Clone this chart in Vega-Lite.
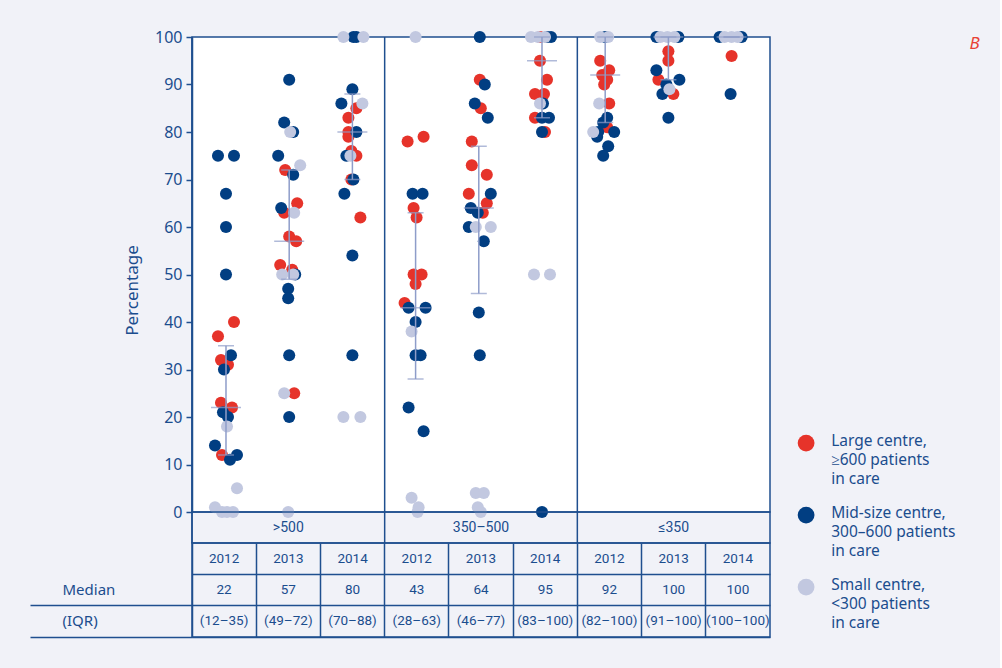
{
  "$schema": "https://vega.github.io/schema/vega-lite/v6.json",
  "background": "#f1f2f8",
  "padding": {"left": 28, "top": 28, "right": 20, "bottom": 32},
  "title": {
    "text": "B",
    "anchor": "end",
    "frame": "bounds",
    "font": "Noto Sans",
    "fontSize": 17,
    "fontStyle": "italic",
    "fontWeight": "normal",
    "color": "#e84136",
    "dx": 24,
    "dy": 29
  },
  "datasets": {
    "centres": [
      {"col": 0, "centre": "Large", "pct": 40, "jitter": 8},
      {"col": 0, "centre": "Large", "pct": 37, "jitter": -8},
      {"col": 0, "centre": "Large", "pct": 32, "jitter": -5},
      {"col": 0, "centre": "Large", "pct": 31, "jitter": 2},
      {"col": 0, "centre": "Large", "pct": 23, "jitter": -5},
      {"col": 0, "centre": "Large", "pct": 22, "jitter": 6},
      {"col": 0, "centre": "Large", "pct": 12, "jitter": -4},
      {"col": 0, "centre": "Mid", "pct": 75, "jitter": -8},
      {"col": 0, "centre": "Mid", "pct": 75, "jitter": 8},
      {"col": 0, "centre": "Mid", "pct": 67, "jitter": 0},
      {"col": 0, "centre": "Mid", "pct": 60, "jitter": 0},
      {"col": 0, "centre": "Mid", "pct": 50, "jitter": 0},
      {"col": 0, "centre": "Mid", "pct": 33, "jitter": 5},
      {"col": 0, "centre": "Mid", "pct": 30, "jitter": -2},
      {"col": 0, "centre": "Mid", "pct": 21, "jitter": -3},
      {"col": 0, "centre": "Mid", "pct": 20, "jitter": 2},
      {"col": 0, "centre": "Mid", "pct": 14, "jitter": -11},
      {"col": 0, "centre": "Mid", "pct": 12, "jitter": 11},
      {"col": 0, "centre": "Mid", "pct": 11, "jitter": 4},
      {"col": 0, "centre": "Small", "pct": 18, "jitter": 1},
      {"col": 0, "centre": "Small", "pct": 5, "jitter": 11},
      {"col": 0, "centre": "Small", "pct": 1, "jitter": -11},
      {"col": 0, "centre": "Small", "pct": 0, "jitter": -4},
      {"col": 0, "centre": "Small", "pct": 0, "jitter": 1},
      {"col": 0, "centre": "Small", "pct": 0, "jitter": 7},

      {"col": 1, "centre": "Large", "pct": 72, "jitter": -4},
      {"col": 1, "centre": "Large", "pct": 65, "jitter": 8},
      {"col": 1, "centre": "Large", "pct": 63, "jitter": -5},
      {"col": 1, "centre": "Large", "pct": 58, "jitter": 0},
      {"col": 1, "centre": "Large", "pct": 57, "jitter": 7},
      {"col": 1, "centre": "Large", "pct": 52, "jitter": -9},
      {"col": 1, "centre": "Large", "pct": 51, "jitter": 3},
      {"col": 1, "centre": "Large", "pct": 25, "jitter": 5},
      {"col": 1, "centre": "Mid", "pct": 91, "jitter": 0},
      {"col": 1, "centre": "Mid", "pct": 82, "jitter": -5},
      {"col": 1, "centre": "Mid", "pct": 80, "jitter": 4},
      {"col": 1, "centre": "Mid", "pct": 75, "jitter": -11},
      {"col": 1, "centre": "Mid", "pct": 71, "jitter": 4},
      {"col": 1, "centre": "Mid", "pct": 64, "jitter": -8},
      {"col": 1, "centre": "Mid", "pct": 50, "jitter": 6},
      {"col": 1, "centre": "Mid", "pct": 47, "jitter": -1},
      {"col": 1, "centre": "Mid", "pct": 45, "jitter": -1},
      {"col": 1, "centre": "Mid", "pct": 33, "jitter": 0},
      {"col": 1, "centre": "Mid", "pct": 20, "jitter": 0},
      {"col": 1, "centre": "Small", "pct": 80, "jitter": 1},
      {"col": 1, "centre": "Small", "pct": 73, "jitter": 11},
      {"col": 1, "centre": "Small", "pct": 63, "jitter": 5},
      {"col": 1, "centre": "Small", "pct": 50, "jitter": -7},
      {"col": 1, "centre": "Small", "pct": 50, "jitter": 4},
      {"col": 1, "centre": "Small", "pct": 25, "jitter": -5},
      {"col": 1, "centre": "Small", "pct": 0, "jitter": -1},

      {"col": 2, "centre": "Large", "pct": 85, "jitter": 4},
      {"col": 2, "centre": "Large", "pct": 83, "jitter": -4},
      {"col": 2, "centre": "Large", "pct": 80, "jitter": -4},
      {"col": 2, "centre": "Large", "pct": 79, "jitter": -4},
      {"col": 2, "centre": "Large", "pct": 76, "jitter": -1},
      {"col": 2, "centre": "Large", "pct": 75, "jitter": 4},
      {"col": 2, "centre": "Large", "pct": 70, "jitter": -1},
      {"col": 2, "centre": "Large", "pct": 62, "jitter": 8},
      {"col": 2, "centre": "Mid", "pct": 100, "jitter": 1},
      {"col": 2, "centre": "Mid", "pct": 100, "jitter": 4},
      {"col": 2, "centre": "Mid", "pct": 89, "jitter": 0},
      {"col": 2, "centre": "Mid", "pct": 86, "jitter": -11},
      {"col": 2, "centre": "Mid", "pct": 80, "jitter": 4},
      {"col": 2, "centre": "Mid", "pct": 75, "jitter": -6},
      {"col": 2, "centre": "Mid", "pct": 70, "jitter": 1},
      {"col": 2, "centre": "Mid", "pct": 67, "jitter": -8},
      {"col": 2, "centre": "Mid", "pct": 54, "jitter": 0},
      {"col": 2, "centre": "Mid", "pct": 33, "jitter": 0},
      {"col": 2, "centre": "Small", "pct": 100, "jitter": -9},
      {"col": 2, "centre": "Small", "pct": 100, "jitter": 11},
      {"col": 2, "centre": "Small", "pct": 86, "jitter": 10},
      {"col": 2, "centre": "Small", "pct": 75, "jitter": -2},
      {"col": 2, "centre": "Small", "pct": 20, "jitter": -9},
      {"col": 2, "centre": "Small", "pct": 20, "jitter": 8},

      {"col": 3, "centre": "Large", "pct": 79, "jitter": 8},
      {"col": 3, "centre": "Large", "pct": 78, "jitter": -8},
      {"col": 3, "centre": "Large", "pct": 64, "jitter": -2},
      {"col": 3, "centre": "Large", "pct": 62, "jitter": 1},
      {"col": 3, "centre": "Large", "pct": 50, "jitter": -2},
      {"col": 3, "centre": "Large", "pct": 50, "jitter": 6},
      {"col": 3, "centre": "Large", "pct": 48, "jitter": 0},
      {"col": 3, "centre": "Large", "pct": 44, "jitter": -11},
      {"col": 3, "centre": "Mid", "pct": 67, "jitter": -3},
      {"col": 3, "centre": "Mid", "pct": 67, "jitter": 7},
      {"col": 3, "centre": "Mid", "pct": 43, "jitter": -7},
      {"col": 3, "centre": "Mid", "pct": 43, "jitter": 10},
      {"col": 3, "centre": "Mid", "pct": 40, "jitter": 0},
      {"col": 3, "centre": "Mid", "pct": 33, "jitter": 0},
      {"col": 3, "centre": "Mid", "pct": 33, "jitter": 5},
      {"col": 3, "centre": "Mid", "pct": 22, "jitter": -7},
      {"col": 3, "centre": "Mid", "pct": 17, "jitter": 8},
      {"col": 3, "centre": "Small", "pct": 100, "jitter": 0},
      {"col": 3, "centre": "Small", "pct": 38, "jitter": -4},
      {"col": 3, "centre": "Small", "pct": 3, "jitter": -4},
      {"col": 3, "centre": "Small", "pct": 1, "jitter": 3},
      {"col": 3, "centre": "Small", "pct": 0, "jitter": 2},

      {"col": 4, "centre": "Large", "pct": 91, "jitter": 1},
      {"col": 4, "centre": "Large", "pct": 85, "jitter": 2},
      {"col": 4, "centre": "Large", "pct": 78, "jitter": -7},
      {"col": 4, "centre": "Large", "pct": 73, "jitter": -7},
      {"col": 4, "centre": "Large", "pct": 71, "jitter": 8},
      {"col": 4, "centre": "Large", "pct": 67, "jitter": -10},
      {"col": 4, "centre": "Large", "pct": 65, "jitter": 8},
      {"col": 4, "centre": "Large", "pct": 63, "jitter": 4},
      {"col": 4, "centre": "Mid", "pct": 100, "jitter": 1},
      {"col": 4, "centre": "Mid", "pct": 90, "jitter": 6},
      {"col": 4, "centre": "Mid", "pct": 86, "jitter": -4},
      {"col": 4, "centre": "Mid", "pct": 83, "jitter": 9},
      {"col": 4, "centre": "Mid", "pct": 67, "jitter": 12},
      {"col": 4, "centre": "Mid", "pct": 64, "jitter": -8},
      {"col": 4, "centre": "Mid", "pct": 63, "jitter": -1},
      {"col": 4, "centre": "Mid", "pct": 60, "jitter": -10},
      {"col": 4, "centre": "Mid", "pct": 57, "jitter": 5},
      {"col": 4, "centre": "Mid", "pct": 42, "jitter": 0},
      {"col": 4, "centre": "Mid", "pct": 33, "jitter": 1},
      {"col": 4, "centre": "Small", "pct": 60, "jitter": -3},
      {"col": 4, "centre": "Small", "pct": 60, "jitter": 12},
      {"col": 4, "centre": "Small", "pct": 4, "jitter": -3},
      {"col": 4, "centre": "Small", "pct": 4, "jitter": 5},
      {"col": 4, "centre": "Small", "pct": 1, "jitter": -1},
      {"col": 4, "centre": "Small", "pct": 0, "jitter": 2},

      {"col": 5, "centre": "Large", "pct": 100, "jitter": -2},
      {"col": 5, "centre": "Large", "pct": 95, "jitter": -2},
      {"col": 5, "centre": "Large", "pct": 91, "jitter": 5},
      {"col": 5, "centre": "Large", "pct": 88, "jitter": -7},
      {"col": 5, "centre": "Large", "pct": 88, "jitter": 2},
      {"col": 5, "centre": "Large", "pct": 83, "jitter": -7},
      {"col": 5, "centre": "Large", "pct": 80, "jitter": 3},
      {"col": 5, "centre": "Mid", "pct": 100, "jitter": 9},
      {"col": 5, "centre": "Mid", "pct": 100, "jitter": 5},
      {"col": 5, "centre": "Mid", "pct": 86, "jitter": 1},
      {"col": 5, "centre": "Mid", "pct": 83, "jitter": 0},
      {"col": 5, "centre": "Mid", "pct": 83, "jitter": 7},
      {"col": 5, "centre": "Mid", "pct": 80, "jitter": 0},
      {"col": 5, "centre": "Mid", "pct": 0, "jitter": 0},
      {"col": 5, "centre": "Small", "pct": 100, "jitter": -11},
      {"col": 5, "centre": "Small", "pct": 100, "jitter": -4},
      {"col": 5, "centre": "Small", "pct": 100, "jitter": 3},
      {"col": 5, "centre": "Small", "pct": 86, "jitter": -2},
      {"col": 5, "centre": "Small", "pct": 50, "jitter": -8},
      {"col": 5, "centre": "Small", "pct": 50, "jitter": 8},

      {"col": 6, "centre": "Large", "pct": 95, "jitter": -5},
      {"col": 6, "centre": "Large", "pct": 93, "jitter": 4},
      {"col": 6, "centre": "Large", "pct": 92, "jitter": -3},
      {"col": 6, "centre": "Large", "pct": 91, "jitter": 2},
      {"col": 6, "centre": "Large", "pct": 90, "jitter": -1},
      {"col": 6, "centre": "Large", "pct": 86, "jitter": 4},
      {"col": 6, "centre": "Large", "pct": 81, "jitter": 2},
      {"col": 6, "centre": "Mid", "pct": 100, "jitter": 0},
      {"col": 6, "centre": "Mid", "pct": 83, "jitter": 2},
      {"col": 6, "centre": "Mid", "pct": 82, "jitter": -2},
      {"col": 6, "centre": "Mid", "pct": 80, "jitter": -7},
      {"col": 6, "centre": "Mid", "pct": 80, "jitter": 9},
      {"col": 6, "centre": "Mid", "pct": 79, "jitter": -8},
      {"col": 6, "centre": "Mid", "pct": 77, "jitter": 3},
      {"col": 6, "centre": "Mid", "pct": 75, "jitter": -2},
      {"col": 6, "centre": "Small", "pct": 100, "jitter": -5},
      {"col": 6, "centre": "Small", "pct": 100, "jitter": 3},
      {"col": 6, "centre": "Small", "pct": 86, "jitter": -6},
      {"col": 6, "centre": "Small", "pct": 80, "jitter": -12},

      {"col": 7, "centre": "Large", "pct": 97, "jitter": 0},
      {"col": 7, "centre": "Large", "pct": 95, "jitter": 0},
      {"col": 7, "centre": "Large", "pct": 91, "jitter": -10},
      {"col": 7, "centre": "Large", "pct": 88, "jitter": 5},
      {"col": 7, "centre": "Mid", "pct": 100, "jitter": -12},
      {"col": 7, "centre": "Mid", "pct": 100, "jitter": 10},
      {"col": 7, "centre": "Mid", "pct": 93, "jitter": -12},
      {"col": 7, "centre": "Mid", "pct": 91, "jitter": 11},
      {"col": 7, "centre": "Mid", "pct": 90, "jitter": -2},
      {"col": 7, "centre": "Mid", "pct": 88, "jitter": -6},
      {"col": 7, "centre": "Mid", "pct": 83, "jitter": 0},
      {"col": 7, "centre": "Small", "pct": 100, "jitter": -8},
      {"col": 7, "centre": "Small", "pct": 100, "jitter": -1},
      {"col": 7, "centre": "Small", "pct": 100, "jitter": 6},
      {"col": 7, "centre": "Small", "pct": 89, "jitter": 1},

      {"col": 8, "centre": "Large", "pct": 96, "jitter": 0},
      {"col": 8, "centre": "Mid", "pct": 100, "jitter": -12},
      {"col": 8, "centre": "Mid", "pct": 100, "jitter": 10},
      {"col": 8, "centre": "Mid", "pct": 88, "jitter": -1},
      {"col": 8, "centre": "Small", "pct": 100, "jitter": -7},
      {"col": 8, "centre": "Small", "pct": 100, "jitter": 0},
      {"col": 8, "centre": "Small", "pct": 100, "jitter": 6}
    ],
    "summary": [
      {"col": 0, "group": ">500", "year": "2012", "median": 22, "lo": 12, "hi": 35},
      {"col": 1, "group": ">500", "year": "2013", "median": 57, "lo": 49, "hi": 72},
      {"col": 2, "group": ">500", "year": "2014", "median": 80, "lo": 70, "hi": 88},
      {"col": 3, "group": "350–500", "year": "2012", "median": 43, "lo": 28, "hi": 63},
      {"col": 4, "group": "350–500", "year": "2013", "median": 64, "lo": 46, "hi": 77},
      {"col": 5, "group": "350–500", "year": "2014", "median": 95, "lo": 83, "hi": 100},
      {"col": 6, "group": "≤350", "year": "2012", "median": 92, "lo": 82, "hi": 100},
      {"col": 7, "group": "≤350", "year": "2013", "median": 100, "lo": 91, "hi": 100},
      {"col": 8, "group": "≤350", "year": "2014", "median": 100, "lo": 100, "hi": 100}
    ],
    "groups": [
      {"group": ">500"},
      {"group": "350–500"},
      {"group": "≤350"}
    ]
  },
  "vconcat": [
    {
      "width": 578,
      "height": 475,
      "view": {"fill": "#ffffff", "stroke": "#1f4f8f", "strokeWidth": 1.5},
      "layer": [
        {
          "layer": [
            {
              "data": {"name": "centres"},
              "mark": {"type": "circle", "size": 145, "opacity": 1},
              "encoding": {
                "x": {
                  "field": "col",
                  "type": "ordinal",
                  "scale": {"type": "band", "domain": [0, 1, 2, 3, 4, 5, 6, 7, 8], "paddingInner": 0, "paddingOuter": 0.0728, "align": 0.26},
                  "axis": null
                },
                "xOffset": {"field": "jitter", "type": "quantitative", "scale": {"domain": [-31.6, 31.6]}},
                "y": {
                  "field": "pct",
                  "type": "quantitative",
                  "title": "Percentage",
                  "scale": {"domain": [0, 100], "nice": false},
                  "axis": {
                    "values": [0, 10, 20, 30, 40, 50, 60, 70, 80, 90, 100],
                    "grid": false,
                    "tickSize": 6,
                    "tickWidth": 1.5,
                    "domainWidth": 1.5,
                    "labelFontSize": 16,
                    "labelPadding": 4,
                    "titleFontSize": 17,
                    "titleFontWeight": "normal",
                    "titleX": -51,
                    "titleY": 253
                  }
                },
                "color": {
                  "field": "centre",
                  "type": "nominal",
                  "scale": {"domain": ["Large", "Mid", "Small"], "range": ["#e6332a", "#013e82", "#c2c8e0"]},
                  "legend": {
                    "orient": "none",
                    "legendX": 605.6,
                    "legendY": 397.6,
                    "title": null,
                    "padding": 0,
                    "symbolType": "circle",
                    "symbolSize": 283,
                    "symbolStrokeWidth": 0,
                    "symbolOpacity": 1,
                    "labelFontSize": 15.5,
                    "labelColor": "#1b4d8e",
                    "labelOffset": 16.6,
                    "labelLimit": 0,
                    "labelBaseline": "top",
                    "rowPadding": 18,
                    "labelExpr": "datum.label === 'Large' ? ['Large centre,', '≥600 patients', 'in care'] : datum.label === 'Mid' ? ['Mid-size centre,', '300–600 patients', 'in care'] : ['Small centre,', '<300 patients', 'in care']",
                    "encode": {"labels": {"update": {"lineHeight": {"value": 19}, "dy": {"value": -9}}}}
                  }
                }
              }
            },
            {
              "data": {"name": "summary"},
              "mark": {"type": "rule", "color": "#8e9dc9", "strokeWidth": 1.5},
              "encoding": {
                "x": {"field": "col", "type": "ordinal"},
                "y": {"field": "lo", "type": "quantitative", "title": "Percentage"},
                "y2": {"field": "hi"}
              }
            },
            {
              "data": {"name": "summary"},
              "mark": {"type": "tick", "color": "#8e9dc9", "thickness": 1.5, "size": 30},
              "encoding": {
                "x": {"field": "col", "type": "ordinal"},
                "y": {"field": "median", "type": "quantitative", "title": "Percentage"}
              }
            },
            {
              "data": {"name": "summary"},
              "mark": {"type": "tick", "color": "#8e9dc9", "thickness": 1.5, "size": 16},
              "encoding": {
                "x": {"field": "col", "type": "ordinal"},
                "y": {"field": "lo", "type": "quantitative", "title": "Percentage"}
              }
            },
            {
              "data": {"name": "summary"},
              "mark": {"type": "tick", "color": "#8e9dc9", "thickness": 1.5, "size": 16},
              "encoding": {
                "x": {"field": "col", "type": "ordinal"},
                "y": {"field": "hi", "type": "quantitative", "title": "Percentage"}
              }
            }
          ]
        },
        {
          "data": {"name": "groups"},
          "mark": {"type": "rule", "color": "#1f4f8f", "strokeWidth": 1.5},
          "encoding": {
            "x": {
              "field": "group",
              "type": "nominal",
              "bandPosition": 0,
              "scale": {"type": "band", "domain": [">500", "350–500", "≤350"], "paddingInner": 0, "paddingOuter": 0},
              "axis": null
            }
          }
        }
      ],
      "resolve": {"scale": {"x": "independent"}}
    },
    {
      "width": 578,
      "height": 31,
      "view": {"stroke": "#1f4f8f", "strokeWidth": 1.5},
      "data": {"name": "groups"},
      "encoding": {
        "x": {
          "field": "group",
          "type": "nominal",
          "scale": {"type": "band", "domain": [">500", "350–500", "≤350"], "paddingInner": 0, "paddingOuter": 0},
          "axis": null
        }
      },
      "layer": [
        {
          "mark": {"type": "rule", "color": "#1f4f8f", "strokeWidth": 1.5},
          "encoding": {"x": {"field": "group", "type": "nominal", "bandPosition": 0}}
        },
        {
          "mark": {"type": "text", "fontSize": 14, "font": "Roboto", "color": "#1b4d8e"},
          "encoding": {"text": {"field": "group"}}
        }
      ]
    },
    {
      "width": 578,
      "height": 94,
      "view": {"stroke": "#1f4f8f", "strokeWidth": 1.5},
      "data": {"name": "summary"},
      "transform": [{"calculate": "'(' + datum.lo + '–' + datum.hi + ')'", "as": "iqr"}],
      "encoding": {
        "x": {
          "field": "col",
          "type": "ordinal",
          "scale": {"type": "band", "paddingInner": 0, "paddingOuter": 0},
          "axis": {"grid": true, "bandPosition": 0, "ticks": false, "labels": false, "domain": false, "title": null, "gridColor": "#1f4f8f", "gridWidth": 1.5, "gridOpacity": 1}
        }
      },
      "layer": [
        {
          "mark": {"type": "text", "fontSize": 13.5, "font": "Roboto", "color": "#1b4d8e"},
          "encoding": {
            "y": {
              "datum": "Year",
              "type": "nominal",
              "scale": {"type": "band", "domain": ["Year", "Median", "(IQR)"], "paddingInner": 0, "paddingOuter": 0},
              "axis": {
                "title": null,
                "bandPosition": 1,
                "grid": true,
                "gridColor": "#1f4f8f",
                "gridWidth": 1.5,
                "gridOpacity": 1,
                "domain": false,
                "tickSize": 162,
                "tickWidth": 1.5,
                "tickColor": "#1f4f8f",
                "tickOpacity": {"condition": {"test": "datum.value === 'Year'", "value": 0}, "value": 1},
                "labelExpr": "datum.value === 'Year' ? '' : datum.value",
                "labelAlign": "left",
                "labelBaseline": "middle",
                "labelPadding": -32,
                "labelOffset": 0,
                "labelFontSize": 15,
                "labelColor": "#1b4d8e"
              }
            },
            "text": {"field": "year"}
          }
        },
        {
          "mark": {"type": "text", "fontSize": 13.5, "font": "Roboto", "color": "#1b4d8e"},
          "encoding": {
            "y": {"datum": "Median", "type": "nominal"},
            "text": {"field": "median"}
          }
        },
        {
          "mark": {"type": "text", "fontSize": 13.5, "font": "Roboto", "color": "#1b4d8e"},
          "encoding": {
            "y": {"datum": "(IQR)", "type": "nominal"},
            "text": {"field": "iqr"}
          }
        }
      ]
    }
  ],
  "spacing": 0,
  "bounds": "flush",
  "config": {
    "font": "Noto Sans",
    "axis": {
      "labelColor": "#1b4d8e",
      "titleColor": "#1b4d8e",
      "domainColor": "#1f4f8f",
      "tickColor": "#1f4f8f",
      "labelFont": "Noto Sans",
      "titleFont": "Noto Sans"
    },
    "legend": {"labelFont": "Noto Sans"}
  }
}
